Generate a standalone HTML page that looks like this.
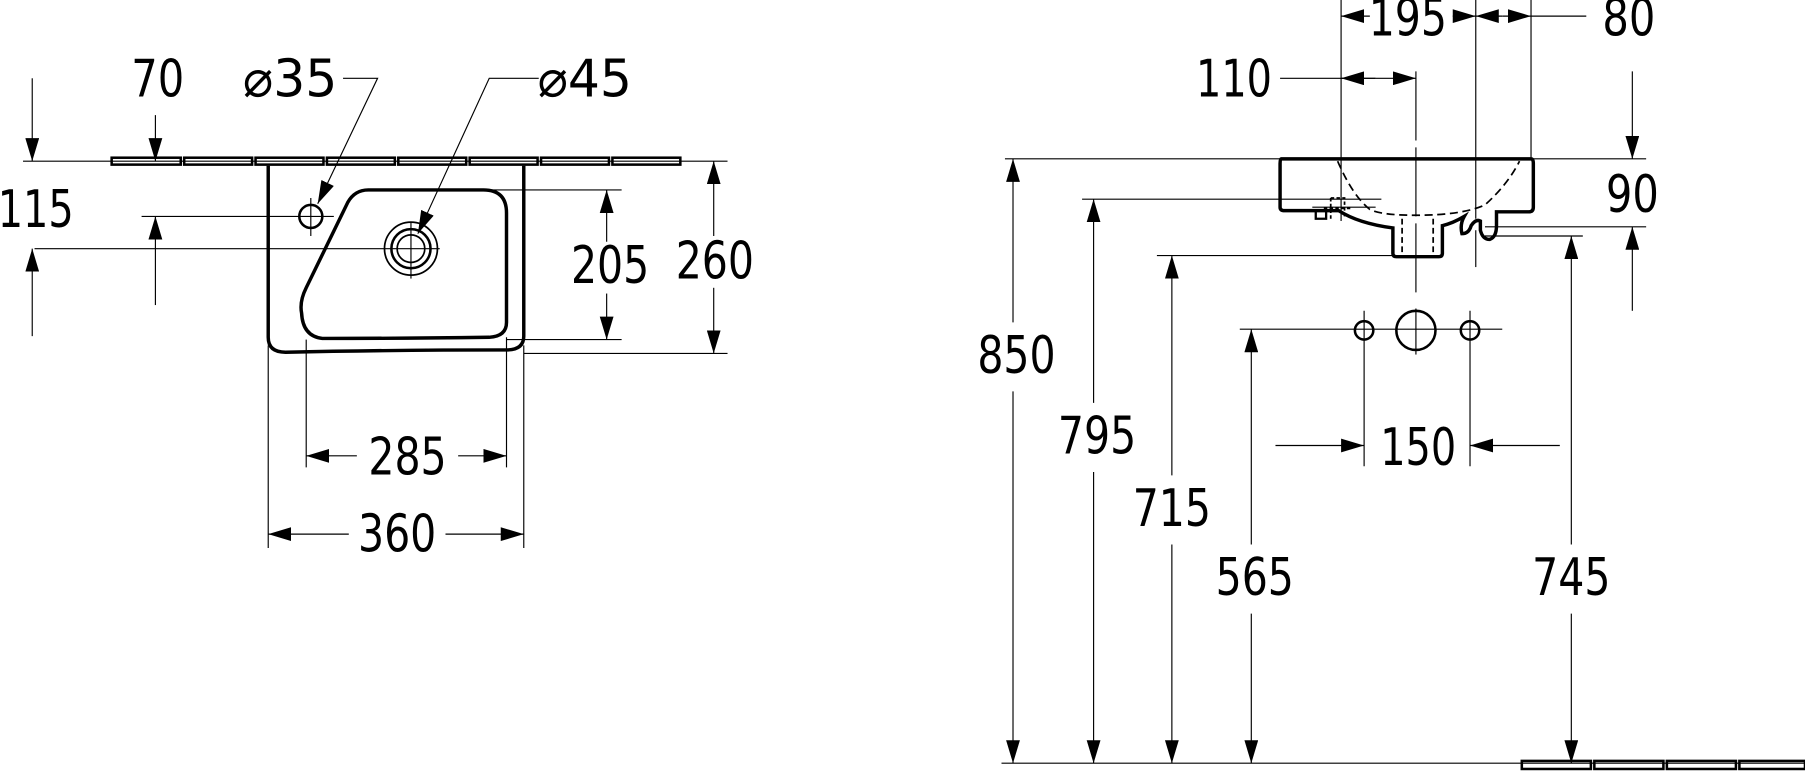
<!DOCTYPE html>
<html><head><meta charset="utf-8"><style>
html,body{margin:0;padding:0;background:#fff}
svg{display:block}
text{font-family:"DejaVu Sans Condensed","DejaVu Sans","Liberation Sans",sans-serif;font-size:45px;fill:#000;text-anchor:middle}
</style></head><body>
<svg width="1805" height="773" viewBox="0 0 1568 671.5" xmlns="http://www.w3.org/2000/svg">
<defs>
<marker id="a" viewBox="0 0 20 12" refX="20" refY="6" markerWidth="20" markerHeight="12" markerUnits="userSpaceOnUse" orient="auto-start-reverse"><path d="M0,0 L20,6 L0,12 Z" fill="#000"/></marker>
</defs>
<g stroke="#000" stroke-width="1" fill="none">
<line x1="20" y1="140" x2="632" y2="140"/>
<g stroke-width="2.2">
<rect x="97" y="137" width="60" height="6"/><rect x="160" y="137" width="59" height="6"/><rect x="222" y="137" width="59" height="6"/><rect x="284" y="137" width="59" height="6"/><rect x="346" y="137" width="59" height="6"/><rect x="408" y="137" width="59" height="6"/><rect x="470" y="137" width="59" height="6"/><rect x="532" y="137" width="59" height="6"/>
</g>
<path stroke-width="3" d="M233,144 V293 Q233,306 248,306 Q340,304 440,304 Q455,304 455,292 V144"/>
<path stroke-width="3" d="M320,165 H420 Q440,165 440,185 V280 Q440,292 425,293 Q350,294 280,294 Q263,292 262,272 Q260,262 266,250 L302,176 Q308,165 320,165 Z"/>
<line x1="123" y1="188" x2="290" y2="188"/>
<line x1="30" y1="216" x2="382" y2="216"/>
<line x1="320" y1="165" x2="540" y2="165"/>
<line x1="440" y1="295" x2="540" y2="295"/>
<line x1="455" y1="307" x2="632" y2="307"/>
<line x1="266" y1="295" x2="266" y2="406"/>
<line x1="440" y1="293" x2="440" y2="406"/>
<line x1="233" y1="300" x2="233" y2="476"/>
<line x1="455" y1="300" x2="455" y2="476"/>
<circle cx="270" cy="188" r="10" stroke-width="2.2"/>
<line x1="270" y1="172" x2="270" y2="205"/>
<circle cx="357" cy="216" r="23" stroke-width="1.5"/>
<circle cx="357" cy="216" r="17" stroke-width="2.2"/>
<circle cx="357" cy="216" r="12" stroke-width="1.5"/>
<line x1="357" y1="193" x2="357" y2="242"/>
<line x1="28" y1="68" x2="28" y2="140" marker-end="url(#a)"/>
<line x1="28" y1="292" x2="28" y2="216" marker-end="url(#a)"/>
<line x1="135" y1="100" x2="135" y2="140" marker-end="url(#a)"/>
<line x1="135" y1="265" x2="135" y2="188" marker-end="url(#a)"/>
<polyline points="298,68 328,68 276,177" marker-end="url(#a)"/>
<polyline points="468,68 425,68 363,203" marker-end="url(#a)"/>
<line x1="527" y1="210" x2="527" y2="165" marker-end="url(#a)"/>
<line x1="527" y1="255" x2="527" y2="295" marker-end="url(#a)"/>
<line x1="620" y1="205" x2="620" y2="140" marker-end="url(#a)"/>
<line x1="620" y1="250" x2="620" y2="307" marker-end="url(#a)"/>
<line x1="310" y1="396" x2="266" y2="396" marker-end="url(#a)"/>
<line x1="398" y1="396" x2="440" y2="396" marker-end="url(#a)"/>
<line x1="303" y1="464" x2="233" y2="464" marker-end="url(#a)"/>
<line x1="387" y1="464" x2="455" y2="464" marker-end="url(#a)"/>

<line x1="870" y1="663" x2="1568" y2="663"/>
<g stroke-width="2.2">
<rect x="1322" y="661" width="60" height="7"/><rect x="1385" y="661" width="60" height="7"/><rect x="1448" y="661" width="60" height="7"/><rect x="1511" y="661" width="57" height="7"/>
</g>
<line x1="873" y1="138" x2="1430" y2="138"/>
<path stroke-width="3" d="M1113,138 H1330 Q1332,138 1332,142 V180 Q1332,184 1328,184 H1300 V196 Q1300,206 1294,208 Q1288,208 1286,200 V192 Q1282,190 1278,196 Q1276,203 1270,203 Q1268,195 1272,188 Q1262,194 1253,196 V220 Q1253,223 1250,223 H1213 Q1210,223 1210,220 V198 Q1180,194 1163,183 H1116 Q1112,183 1112,180 V142 Q1112,138 1113,138 Z"/>
<path stroke-width="2" d="M1143,183 V190 H1152 V183"/>
<path stroke-width="1.5" stroke-dasharray="7,4" d="M1162,140 Q1175,170 1190,182 Q1200,187 1230,187 Q1270,187 1290,178 Q1310,160 1320,140"/>
<path stroke-width="1.5" stroke-dasharray="5,3" d="M1218,190 V222 M1245,190 V222"/>
<path stroke-width="1.5" stroke-dasharray="3,2" d="M1156,172 H1168 V190 M1156,172 V190 M1150,181 H1175"/>
<line x1="1140" y1="180" x2="1195" y2="180"/>
<line x1="1230" y1="62" x2="1230" y2="258" stroke-dasharray="60,6"/>
<line x1="1230" y1="268" x2="1230" y2="308"/>
<line x1="1165" y1="0" x2="1165" y2="192"/>
<line x1="1282" y1="0" x2="1282" y2="190"/>
<line x1="1282" y1="200" x2="1282" y2="232"/>
<line x1="1330" y1="0" x2="1330" y2="138"/>
<line x1="940" y1="173" x2="1200" y2="173"/>
<line x1="1005" y1="222" x2="1215" y2="222"/>
<line x1="1077" y1="286" x2="1305" y2="286"/>
<line x1="1290" y1="197" x2="1430" y2="197"/>
<line x1="1290" y1="205" x2="1375" y2="205"/>
<circle cx="1185" cy="287" r="8" stroke-width="2.2"/>
<circle cx="1230" cy="287" r="17" stroke-width="2.2"/>
<circle cx="1277" cy="287" r="8" stroke-width="2.2"/>
<line x1="1185" y1="270" x2="1185" y2="405"/>
<line x1="1277" y1="270" x2="1277" y2="405"/>
<line x1="1190" y1="14" x2="1165" y2="14" marker-end="url(#a)"/>
<line x1="1262" y1="14" x2="1282" y2="14" marker-end="url(#a)"/>
<line x1="1305" y1="14" x2="1282" y2="14" marker-end="url(#a)"/>
<line x1="1305" y1="14" x2="1330" y2="14" marker-end="url(#a)"/>
<line x1="1330" y1="14" x2="1378" y2="14"/>
<line x1="1112" y1="68" x2="1195" y2="68"/>
<line x1="1195" y1="68" x2="1165" y2="68" marker-end="url(#a)"/>
<line x1="1195" y1="68" x2="1230" y2="68" marker-end="url(#a)"/>
<line x1="1418" y1="62" x2="1418" y2="138" marker-end="url(#a)"/>
<line x1="1418" y1="270" x2="1418" y2="197" marker-end="url(#a)"/>
<line x1="880" y1="280" x2="880" y2="138" marker-end="url(#a)"/>
<line x1="880" y1="340" x2="880" y2="663" marker-end="url(#a)"/>
<line x1="950" y1="350" x2="950" y2="173" marker-end="url(#a)"/>
<line x1="950" y1="410" x2="950" y2="663" marker-end="url(#a)"/>
<line x1="1018" y1="413" x2="1018" y2="222" marker-end="url(#a)"/>
<line x1="1018" y1="473" x2="1018" y2="663" marker-end="url(#a)"/>
<line x1="1087" y1="473" x2="1087" y2="286" marker-end="url(#a)"/>
<line x1="1087" y1="533" x2="1087" y2="663" marker-end="url(#a)"/>
<line x1="1365" y1="473" x2="1365" y2="205" marker-end="url(#a)"/>
<line x1="1365" y1="533" x2="1365" y2="663" marker-end="url(#a)"/>
<line x1="1108" y1="387" x2="1185" y2="387" marker-end="url(#a)"/>
<line x1="1355" y1="387" x2="1277" y2="387" marker-end="url(#a)"/>
</g>
<g>
<text x="31" y="197" textLength="66" lengthAdjust="spacingAndGlyphs">115</text>
<text x="137" y="84" textLength="46" lengthAdjust="spacingAndGlyphs">70</text>
<text x="252" y="84" textLength="82" lengthAdjust="spacingAndGlyphs">⌀35</text>
<text x="508" y="84" textLength="82" lengthAdjust="spacingAndGlyphs">⌀45</text>
<text x="530" y="246" textLength="68" lengthAdjust="spacingAndGlyphs">205</text>
<text x="621" y="242" textLength="68" lengthAdjust="spacingAndGlyphs">260</text>
<text x="354" y="412" textLength="68" lengthAdjust="spacingAndGlyphs">285</text>
<text x="345" y="479" textLength="68" lengthAdjust="spacingAndGlyphs">360</text>
<text x="1223" y="31" textLength="68" lengthAdjust="spacingAndGlyphs">195</text>
<text x="1415" y="31" textLength="46" lengthAdjust="spacingAndGlyphs">80</text>
<text x="1072" y="84" textLength="66" lengthAdjust="spacingAndGlyphs">110</text>
<text x="1418" y="184" textLength="46" lengthAdjust="spacingAndGlyphs">90</text>
<text x="883" y="324" textLength="68" lengthAdjust="spacingAndGlyphs">850</text>
<text x="953" y="394" textLength="68" lengthAdjust="spacingAndGlyphs">795</text>
<text x="1018" y="457" textLength="68" lengthAdjust="spacingAndGlyphs">715</text>
<text x="1090" y="517" textLength="68" lengthAdjust="spacingAndGlyphs">565</text>
<text x="1365" y="517" textLength="68" lengthAdjust="spacingAndGlyphs">745</text>
<text x="1232" y="404" textLength="66" lengthAdjust="spacingAndGlyphs">150</text>
</g>
</svg>
</body></html>
